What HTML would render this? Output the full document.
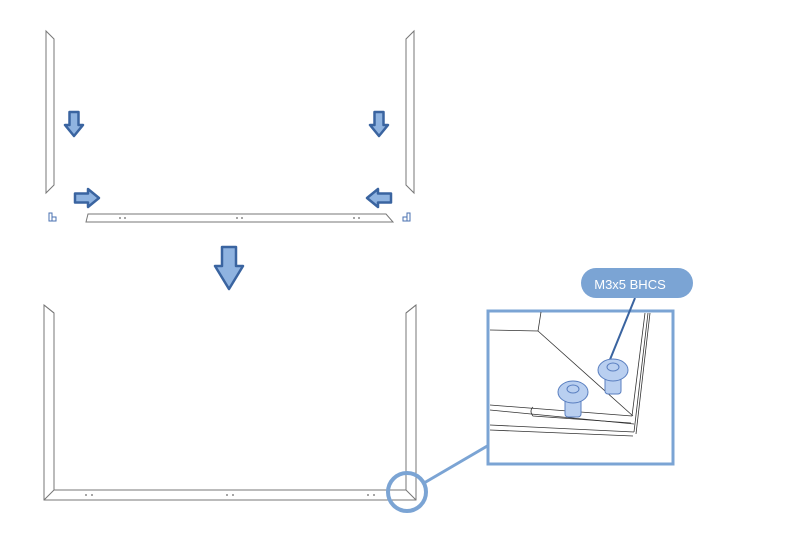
<!DOCTYPE html>
<html><head><style>html,body{margin:0;padding:0;background:#fff;width:805px;height:551px;overflow:hidden}</style></head>
<body>
<svg width="805" height="551" viewBox="0 0 805 551" xmlns="http://www.w3.org/2000/svg">
<defs>
<g id="dn"><path d="M-4.5,0 H4.5 V13 H9 L0,24 L-9,13 H-4.5 Z" fill="#8fb3e0" stroke="#3a64a0" stroke-width="2.5" stroke-linejoin="round"/></g>
</defs>
<g fill="none" stroke="#777" stroke-width="1">
<path d="M46,31 L46,193 L54,185 L54,39 Z"/>
<path d="M414,31 L414,193 L406,185 L406,39 Z"/>
<path d="M88,214 L386,214 L393,222 L86,222 Z"/>
<path d="M44,305 L44,500 L416,500 L416,305 L406,313 L406,490 L54,490 L54,313 Z"/>
<path d="M44,500 L54,490 M416,500 L406,490 M44,305 L54,313 M416,305 L406,313" />
</g>
<g fill="#666">
<circle cx="120" cy="218" r="0.9"/><circle cx="125" cy="218" r="0.9"/>
<circle cx="237" cy="218" r="0.9"/><circle cx="242" cy="218" r="0.9"/>
<circle cx="354" cy="218" r="0.9"/><circle cx="359" cy="218" r="0.9"/>
<circle cx="86" cy="495" r="0.9"/><circle cx="92" cy="495" r="0.9"/>
<circle cx="227" cy="495" r="0.9"/><circle cx="233" cy="495" r="0.9"/>
<circle cx="368" cy="495" r="0.9"/><circle cx="374" cy="495" r="0.9"/>
</g>
<g fill="none" stroke="#4a70b0" stroke-width="1">
<path d="M49,213 h3 v4 h4 v4 h-7 Z M52,217 v4"/>
<path d="M410,213 h-3 v4 h-4 v4 h7 Z M407,217 v4"/>
</g>
<use href="#dn" x="74" y="112"/>
<use href="#dn" x="379" y="112"/>
<use href="#dn" transform="translate(75,198) rotate(-90)"/>
<use href="#dn" transform="translate(391,198) rotate(90)"/>
<path d="M222,247 H236 V266 H243 L229,289 L215,266 H222 Z" fill="#8fb3e0" stroke="#3a64a0" stroke-width="2.5" stroke-linejoin="round"/>
<circle cx="407" cy="492" r="19" fill="none" stroke="#7ba4d4" stroke-width="4"/>
<line x1="424" y1="483" x2="489" y2="445" stroke="#7ba4d4" stroke-width="3"/>
<rect x="488" y="311" width="185" height="153" fill="#fff" stroke="#7ba4d4" stroke-width="3"/>
<g fill="none" stroke="#333" stroke-width="0.8">
<path d="M490,330 L538,331 L541,312"/>
<path d="M538,331 L633,416"/>
<path d="M645,313 L632,416 M648,313 L634,432 M650,313 L636,434"/>
<path d="M490,405 L632,416 M490,410 L634,424 M490,425 L634,432 M490,430 L633,436"/>
<path d="M533,407 q-4,4 0,9 L631,423"/>
</g>
<line x1="635" y1="298" x2="609" y2="362" stroke="#3a64a0" stroke-width="2"/>
<g stroke="#5a7fc0" stroke-width="1" fill="#b9cff0">
<rect x="605" y="369" width="16" height="25" rx="3"/>
<ellipse cx="613" cy="370" rx="15" ry="11"/>
<ellipse cx="613" cy="367" rx="6" ry="4" fill="none"/>
<rect x="565" y="392" width="16" height="25" rx="3"/>
<ellipse cx="573" cy="392" rx="15" ry="11"/>
<ellipse cx="573" cy="389" rx="6" ry="4" fill="none"/>
</g>
<rect x="581" y="268" width="112" height="30" rx="15" fill="#7ba4d4"/>
<text x="630" y="289" font-family="Liberation Sans, sans-serif" font-size="13" fill="#fff" text-anchor="middle">M3x5 BHCS</text>
</svg>
</body></html>
